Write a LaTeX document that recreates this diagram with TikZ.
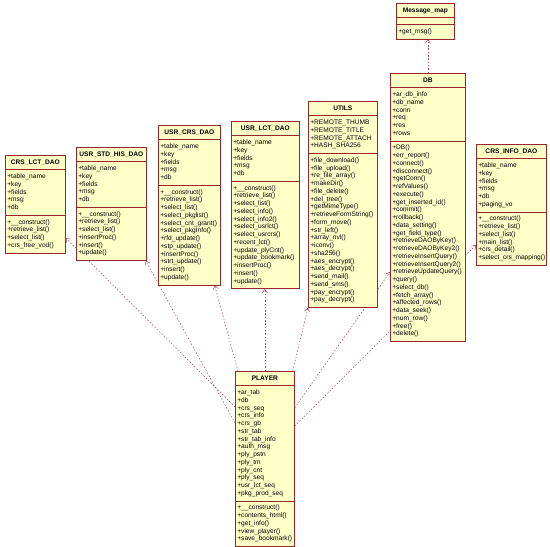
\documentclass[tikz,border=0pt]{standalone}
\usepackage{fontspec}
\setmainfont{Liberation Sans}
\usetikzlibrary{shapes.multipart,arrows.meta,backgrounds}
\definecolor{umlfill}{RGB}{255,255,200}
\definecolor{umlline}{RGB}{150,40,40}
\definecolor{deplink}{RGB}{165,70,90}
\newcommand{\umlstrut}{\rule[-2.25pt]{0pt}{7.75pt}}
\newcommand{\mrow}[1]{\umlstrut#1\par}
\newcommand{\umltitle}[1]{\centering\bfseries\umlstrut#1\par}
\tikzset{
  umlclass/.style={rectangle split, rectangle split parts=3, draw=umlline, fill=umlfill,
    line width=0.7pt, anchor=north west, inner xsep=2pt, inner ysep=3pt, align=left,
    font=\fontsize{6.6}{7.75}\selectfont},
  deparrow/.style={draw=deplink, line width=0.5pt, dash pattern=on 1.5pt off 1.8pt,
    -{Straight Barb[length=3.5pt,width=5pt]}}
}
\begin{document}
\begin{tikzpicture}[x=1pt,y=-1pt]
\useasboundingbox (0,0) rectangle (550,547);

\node[umlclass, text width=56pt] (crslct) at (5,155) {\umltitle{CRS\_LCT\_DAO}
\nodepart{second}\mrow{+table\_name}\mrow{+key}\mrow{+fields}\mrow{+msg}\mrow{+db}
\nodepart{third}\mrow{+\_\_construct()}\mrow{+retrieve\_list()}\mrow{+select\_list()}\mrow{+crs\_free\_vod()}};

\node[umlclass, text width=66pt] (ushis) at (76,147) {\umltitle{USR\_STD\_HIS\_DAO}
\nodepart{second}\mrow{+table\_name}\mrow{+key}\mrow{+fields}\mrow{+msg}\mrow{+db}
\nodepart{third}\mrow{+\_\_construct()}\mrow{+retrieve\_list()}\mrow{+select\_list()}\mrow{+insertProc()}\mrow{+insert()}\mrow{+update()}};

\node[umlclass, text width=58pt] (uscrs) at (158,125) {\umltitle{USR\_CRS\_DAO}
\nodepart{second}\mrow{+table\_name}\mrow{+key}\mrow{+fields}\mrow{+msg}\mrow{+db}
\nodepart{third}\mrow{+\_\_construct()}\mrow{+retrieve\_list()}\mrow{+select\_list()}\mrow{+select\_pkglist()}\mrow{+select\_cnt\_grant()}\mrow{+select\_pkgInfo()}\mrow{+rfd\_update()}\mrow{+stp\_update()}\mrow{+insertProc()}\mrow{+strt\_update()}\mrow{+insert()}\mrow{+update()}};

\node[umlclass, text width=64pt] (uslct) at (231,121) {\umltitle{USR\_LCT\_DAO}
\nodepart{second}\mrow{+table\_name}\mrow{+key}\mrow{+fields}\mrow{+msg}\mrow{+db}
\nodepart{third}\mrow{+\_\_construct()}\mrow{+retrieve\_list()}\mrow{+select\_list()}\mrow{+select\_info()}\mrow{+select\_info2()}\mrow{+select\_usrlct()}\mrow{+select\_usrcrs()}\mrow{+recent\_lct()}\mrow{+update\_plyCnt()}\mrow{+update\_bookmark()}\mrow{+insertProc()}\mrow{+insert()}\mrow{+update()}};

\node[umlclass, text width=65pt] (utils) at (308,101) {\umltitle{UTILS}
\nodepart{second}\mrow{+REMOTE\_THUMB}\mrow{+REMOTE\_TITLE}\mrow{+REMOTE\_ATTACH}\mrow{+HASH\_SHA256}
\nodepart{third}\mrow{+file\_download()}\mrow{+file\_upload()}\mrow{+re\_file\_array()}\mrow{+makeDir()}\mrow{+file\_delete()}\mrow{+del\_tree()}\mrow{+getMimeType()}\mrow{+retrieveFormString()}\mrow{+form\_move()}\mrow{+str\_left()}\mrow{+array\_nvl()}\mrow{+iconv()}\mrow{+sha256()}\mrow{+aes\_encrypt()}\mrow{+aes\_decrypt()}\mrow{+send\_mail()}\mrow{+send\_sms()}\mrow{+pay\_encrypt()}\mrow{+pay\_decrypt()}};

\node[umlclass, text width=54pt] (msgmap) at (396,3) {\umltitle{Message\_map}
\nodepart{second}
\nodepart{third}\mrow{+get\_msg()}};

\node[umlclass, text width=71pt] (db) at (390,73) {\umltitle{DB}
\nodepart{second}\mrow{+ar\_db\_info}\mrow{+db\_name}\mrow{+conn}\mrow{+req}\mrow{+res}\mrow{+rows}
\nodepart{third}\mrow{+DB()}\mrow{+err\_report()}\mrow{+connect()}\mrow{+disconnect()}\mrow{+getConn()}\mrow{+refValues()}\mrow{+execute()}\mrow{+get\_inserted\_id()}\mrow{+commit()}\mrow{+rollback()}\mrow{+data\_setting()}\mrow{+get\_field\_type()}\mrow{+retrieveDAOByKey()}\mrow{+retrieveDAOByKey2()}\mrow{+retrieveInsertQuery()}\mrow{+retrieveInsertQuery2()}\mrow{+retrieveUpdateQuery()}\mrow{+query()}\mrow{+select\_db()}\mrow{+fetch\_array()}\mrow{+affected\_rows()}\mrow{+data\_seek()}\mrow{+num\_row()}\mrow{+free()}\mrow{+delete()}};

\node[umlclass, text width=66pt] (crsinfo) at (476,144) {\umltitle{CRS\_INFO\_DAO}
\nodepart{second}\mrow{+table\_name}\mrow{+key}\mrow{+fields}\mrow{+msg}\mrow{+db}\mrow{+paging\_vo}
\nodepart{third}\mrow{+\_\_construct()}\mrow{+retrieve\_list()}\mrow{+select\_list()}\mrow{+main\_list()}\mrow{+crs\_detail()}\mrow{+select\_crs\_mapping()}};

\node[umlclass, text width=55pt] (player) at (235,371) {\umltitle{PLAYER}
\nodepart{second}\mrow{+ar\_tab}\mrow{+db}\mrow{+crs\_seq}\mrow{+crs\_info}\mrow{+crs\_gb}\mrow{+str\_tab}\mrow{+str\_tab\_info}\mrow{+auth\_msg}\mrow{+ply\_pstn}\mrow{+ply\_tm}\mrow{+ply\_cnt}\mrow{+ply\_seq}\mrow{+usr\_lct\_seq}\mrow{+pkg\_prod\_seq}
\nodepart{third}\mrow{+\_\_construct()}\mrow{+contents\_html()}\mrow{+get\_info()}\mrow{+view\_player()}\mrow{+save\_bookmark()}};

\begin{scope}[on background layer]
\fill[white] (0,0) rectangle (550,547);
\draw[deparrow] ([yshift=-36pt]player.north west) -- ([yshift=-83pt]crslct.north east);
\draw[deparrow] ([yshift=-52pt]player.north west) -- ([xshift=-1pt]ushis.south east);
\draw[deparrow] ([xshift=3pt]player.north west) -- ([xshift=-6pt]uscrs.south east);
\draw[deparrow] (player.north) -- (player.north |- uslct.south);
\draw[deparrow] ([xshift=-2pt]player.north east) -- (utils.south west);
\draw[deparrow] ([yshift=-37pt]player.north east) -- ([yshift=-199pt]db.north west);
\draw[deparrow] ([yshift=-55pt]player.north east) -- ([yshift=-101pt]crsinfo.north west);
\draw[deparrow] (db.north) -- (db.north |- msgmap.south);
\end{scope}
\end{tikzpicture}
\end{document}
